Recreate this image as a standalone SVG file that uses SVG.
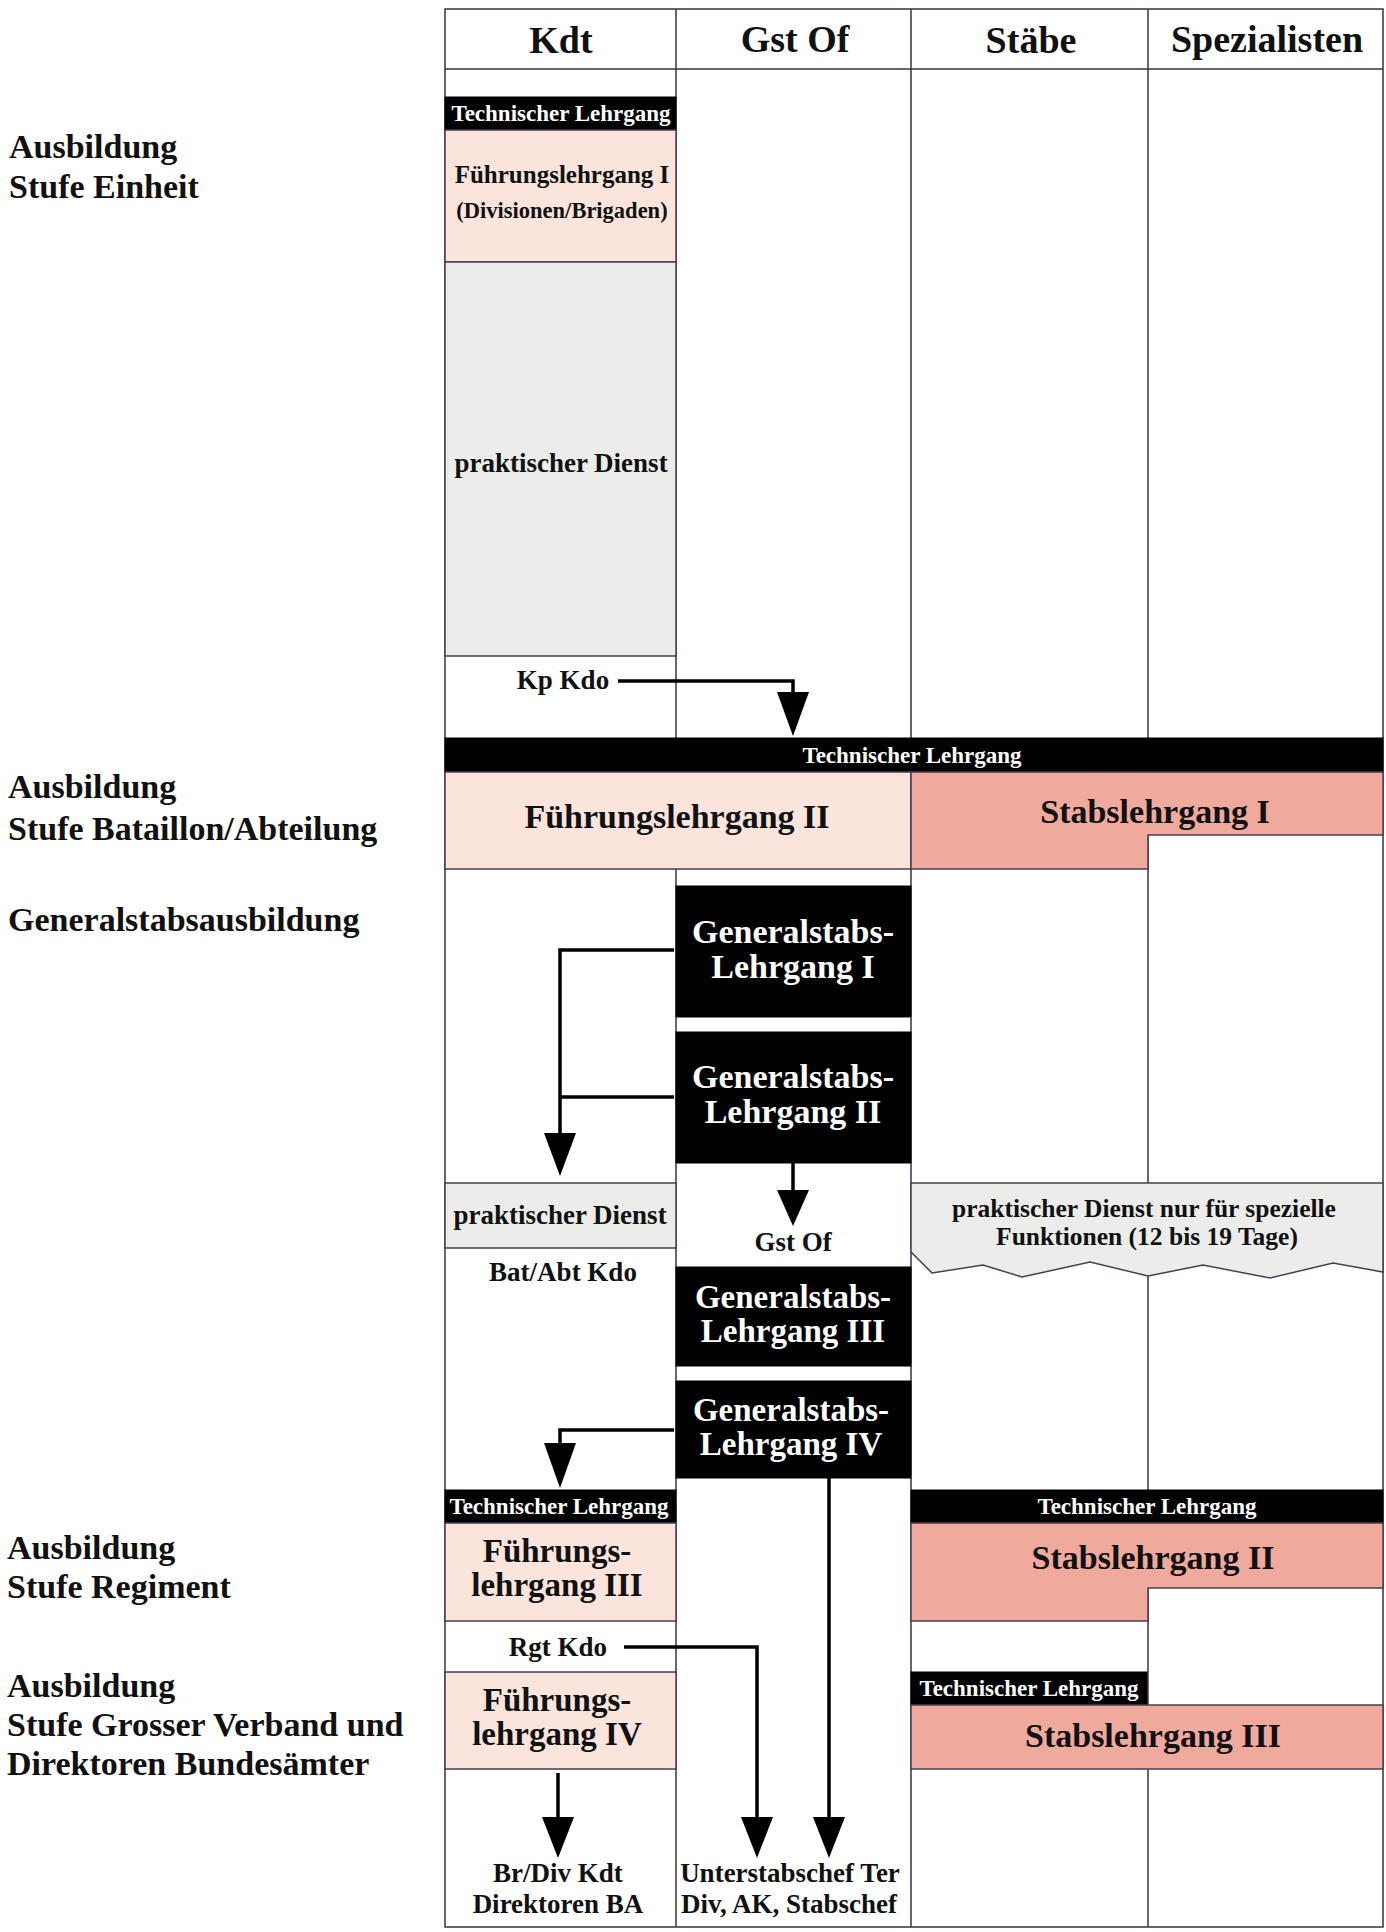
<svg xmlns="http://www.w3.org/2000/svg" width="1386" height="1932" viewBox="0 0 1386 1932">
<style>
text{font-family:"Liberation Serif","Times New Roman",serif;font-weight:bold;fill:#111;text-anchor:middle}
.lab{text-anchor:start;font-size:34px}
.hdr{font-size:38px}
.big{font-size:33px}
.gs{font-size:34px;fill:#fff}
.mid{font-size:27px}
.small{font-size:23px;fill:#fff}
.grid{stroke:#3a3046;stroke-width:1.5;fill:none}
.blk{fill:#000;stroke:#000}
.pink{fill:#fbe4dc;stroke:#4a3c50;stroke-width:1.5}
.salmon{fill:#f0a99d;stroke:#4a3c50;stroke-width:1.5}
.grey{fill:#ecedea;stroke:#4a3c50;stroke-width:1.5}
.con{stroke:#000;stroke-width:3.5;fill:none}
.head{fill:#000}
</style>
<rect width="1386" height="1932" fill="#fff"/>

<g id="labels">
<text class="lab" x="9" y="158">Ausbildung</text>
<text class="lab" x="9" y="198">Stufe Einheit</text>
<text class="lab" x="8" y="798">Ausbildung</text>
<text class="lab" x="8" y="840">Stufe Bataillon/Abteilung</text>
<text class="lab" x="8" y="931">Generalstabsausbildung</text>
<text class="lab" x="7" y="1559">Ausbildung</text>
<text class="lab" x="7" y="1598">Stufe Regiment</text>
<text class="lab" x="7" y="1697">Ausbildung</text>
<text class="lab" x="7" y="1736">Stufe Grosser Verband und</text>
<text class="lab" x="7" y="1775">Direktoren Bundesämter</text>
</g>

<g id="grid">
<rect class="grid" x="445" y="9" width="938" height="1918"/>
<line class="grid" x1="445" y1="69" x2="1383" y2="69"/>
<line class="grid" x1="676" y1="9" x2="676" y2="1927"/>
<line class="grid" x1="911" y1="9" x2="911" y2="1927"/>
<line class="grid" x1="1148" y1="9" x2="1148" y2="1927"/>
<text class="hdr" x="561" y="53">Kdt</text>
<text class="hdr" x="795" y="52">Gst Of</text>
<text class="hdr" x="1031" y="53">Stäbe</text>
<text class="hdr" x="1267" y="52">Spezialisten</text>
</g>

<g id="tech1">
<rect class="blk" x="445" y="97" width="231" height="33"/>
<text class="small" x="561" y="121">Technischer Lehrgang</text>
</g>
<g id="fl1">
<rect class="pink" x="445" y="130" width="231" height="132"/>
<text x="562" y="183" style="font-size:25px">Führungslehrgang I</text>
<text x="562" y="218" style="font-size:22.5px">(Divisionen/Brigaden)</text>
</g>
<g id="pd1">
<rect class="grey" x="445" y="262" width="231" height="394"/>
<text class="mid" x="561" y="472">praktischer Dienst</text>
</g>
<g id="kpkdo">
<text class="mid" x="563" y="689">Kp Kdo</text>
</g>

<g id="tech2">
<rect class="blk" x="445" y="738" width="938" height="34"/>
<text class="small" x="912" y="763">Technischer Lehrgang</text>
</g>
<g id="fl2">
<rect class="pink" x="445" y="772" width="466" height="97"/>
<text x="677" y="828" style="font-size:34px">Führungslehrgang II</text>
</g>
<g id="sl1">
<path class="salmon" d="M911,772 H1383 V835 H1148 V869 H911 Z"/>
<text x="1155" y="823" style="font-size:34px">Stabslehrgang I</text>
</g>

<g id="gl1">
<rect class="blk" x="676" y="886" width="235" height="131"/>
<text class="gs" x="793" y="943">Generalstabs-</text>
<text class="gs" x="793" y="978">Lehrgang I</text>
</g>
<g id="gl2">
<rect class="blk" x="676" y="1032" width="235" height="131"/>
<text class="gs" x="793" y="1088">Generalstabs-</text>
<text class="gs" x="793" y="1123">Lehrgang II</text>
</g>

<g id="pd2">
<rect class="grey" x="445" y="1183" width="231" height="65"/>
<text class="mid" x="560" y="1224">praktischer Dienst</text>
</g>
<g id="batabt">
<text class="mid" x="563" y="1281">Bat/Abt Kdo</text>
</g>
<g id="gstof">
<text class="mid" x="793" y="1251">Gst Of</text>
</g>
<g id="pd3">
<path class="grey" d="M911,1183 H1383 V1272 L1333,1263 L1270,1278 L1203,1265 L1148,1276 L1090,1262 L1022,1277 L983,1265 L932,1273 L911,1252 Z"/>
<text x="1144" y="1217" style="font-size:25.5px">praktischer Dienst nur für spezielle</text>
<text x="1147" y="1245" style="font-size:25.5px">Funktionen (12 bis 19 Tage)</text>
</g>

<g id="gl3">
<rect class="blk" x="676" y="1267" width="235" height="99"/>
<text class="big" style="fill:#fff" x="793" y="1308">Generalstabs-</text>
<text class="big" style="fill:#fff" x="793" y="1342">Lehrgang III</text>
</g>
<g id="gl4">
<rect class="blk" x="676" y="1381" width="235" height="97"/>
<text class="big" style="fill:#fff" x="791" y="1421">Generalstabs-</text>
<text class="big" style="fill:#fff" x="791" y="1455">Lehrgang IV</text>
</g>

<g id="tech3">
<rect class="blk" x="445" y="1490" width="231" height="33"/>
<text class="small" x="559" y="1514">Technischer Lehrgang</text>
</g>
<g id="fl3">
<rect class="pink" x="445" y="1523" width="231" height="98"/>
<text class="big" x="557" y="1562">Führungs-</text>
<text class="big" x="557" y="1596">lehrgang III</text>
</g>
<g id="tech4">
<rect class="blk" x="911" y="1490" width="472" height="33"/>
<text class="small" x="1147" y="1514">Technischer Lehrgang</text>
</g>
<g id="sl2">
<path class="salmon" d="M911,1523 H1383 V1588 H1148 V1621 H911 Z"/>
<text x="1153" y="1569" style="font-size:34px">Stabslehrgang II</text>
</g>

<g id="rgtkdo">
<text class="mid" x="558" y="1656">Rgt Kdo</text>
</g>
<g id="fl4">
<rect class="pink" x="445" y="1672" width="231" height="97"/>
<text class="big" x="557" y="1711">Führungs-</text>
<text class="big" x="557" y="1745">lehrgang IV</text>
</g>
<g id="tech5">
<rect class="blk" x="911" y="1672" width="236" height="33"/>
<text class="small" x="1029" y="1696">Technischer Lehrgang</text>
</g>
<g id="sl3">
<rect class="salmon" x="911" y="1705" width="472" height="64"/>
<text x="1153" y="1747" style="font-size:34px">Stabslehrgang III</text>
</g>

<g id="brdiv">
<text class="mid" x="558" y="1882">Br/Div Kdt</text>
<text class="mid" x="558" y="1913">Direktoren BA</text>
</g>
<g id="usc">
<text class="mid" x="790" y="1882">Unterstabschef Ter</text>
<text class="mid" x="789" y="1913">Div, AK, Stabschef</text>
</g>

<g id="connectors">
<path class="con" d="M618,681 H793 V694"/>
<polygon class="head" points="777,692 809,692 793,736"/>
<path class="con" d="M674,950 H560 V1135"/>
<path class="con" d="M674,1097 H560"/>
<polygon class="head" points="544,1133 576,1133 560,1176"/>
<path class="con" d="M793,1163 V1192"/>
<polygon class="head" points="777,1190 809,1190 793,1226"/>
<path class="con" d="M674,1430 H560 V1445"/>
<polygon class="head" points="544,1443 576,1443 560,1488"/>
<path class="con" d="M829,1478 V1819"/>
<polygon class="head" points="813,1817 845,1817 829,1858"/>
<path class="con" d="M624,1647 H757 V1819"/>
<polygon class="head" points="741,1817 773,1817 757,1858"/>
<path class="con" d="M558,1773 V1819"/>
<polygon class="head" points="542,1817 574,1817 558,1858"/>
</g>
</svg>
